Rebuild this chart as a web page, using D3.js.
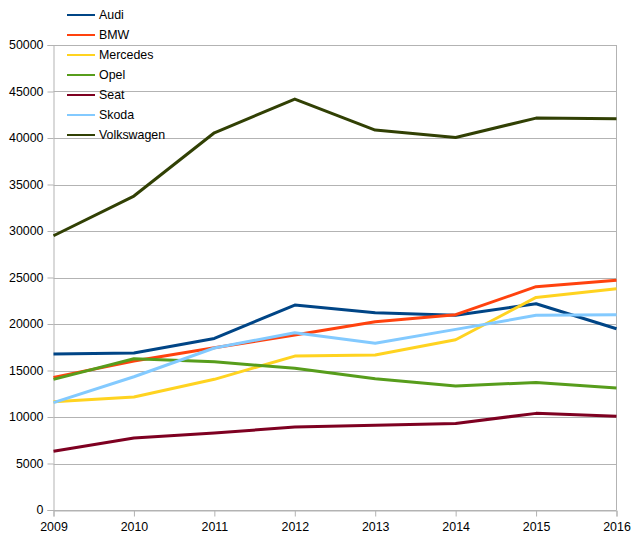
<!DOCTYPE html>
<html>
<head>
<meta charset="utf-8" />
<title>Car registrations</title>
<script src="https://cdn.jsdelivr.net/npm/d3@7"></script>
<style>
    body { margin: 0; background: #fff; }
    svg { font-family: "Liberation Sans", Arial, sans-serif; font-size: 12.4px; }
</style>
</head>
<body>
<svg id="chart" width="637" height="542"></svg>
<script>
    const years = [2009, 2010, 2011, 2012, 2013, 2014, 2015, 2016];
    const brands = ['Audi', 'BMW', 'Mercedes', 'Opel', 'Seat', 'Skoda', 'Volkswagen'];
    const colors = ['#004586', '#ff420e', '#ffd320', '#579d1c', '#7e0021', '#83caff', '#314004'];

    const audi = [16770, 16880, 18450, 22040, 21210, 20930, 22180, 19490];
    const bmw = [14260, 16020, 17450, 18810, 20240, 21000, 24010, 24700];
    const mercedes = [11640, 12150, 14050, 16550, 16660, 18310, 22860, 23800];
    const opel = [14050, 16270, 15950, 15230, 14120, 13330, 13720, 13120];
    const seat = [6310, 7740, 8280, 8920, 9100, 9310, 10390, 10070];
    const skoda = [11540, 14330, 17420, 19060, 17920, 19420, 20930, 21000];
    const volkswagen = [29490, 33760, 40560, 44180, 40850, 40060, 42140, 42070];

    const yTicks = [0, 5000, 10000, 15000, 20000, 25000, 30000, 35000, 40000, 45000, 50000];

    const series = [audi, bmw, mercedes, opel, seat, skoda, volkswagen]
        .map((values, i) => ({ name: brands[i], color: colors[i], values }));

    const plotLeft = 53.5, plotRight = 616.5, plotTop = 45, plotBottom = 510;

    const x = d3.scaleLinear().domain([2009, 2016]).range([plotLeft, plotRight]);
    const y = d3.scaleLinear().domain([0, 50000]).range([plotBottom, plotTop]);

    const svg = d3.select('#chart');

    // grid
    svg.append('g')
        .selectAll('line')
        .data(yTicks)
        .enter().append('line')
        .attr('x1', plotLeft).attr('x2', plotRight)
        .attr('y1', d => Math.round(y(d)) + 0.5)
        .attr('y2', d => Math.round(y(d)) + 0.5)
        .style('stroke', '#b3b3b3');

    svg.append('line')
        .attr('x1', plotRight).attr('x2', plotRight)
        .attr('y1', plotTop).attr('y2', plotBottom)
        .style('stroke', '#b3b3b3');

    // y axis
    const yAxis = svg.append('g')
        .attr('transform', `translate(${plotLeft},0)`)
        .call(d3.axisLeft(y).tickValues(yTicks).tickSize(6).tickPadding(4).tickFormat(d3.format('d')));
    yAxis.select('.domain').attr('stroke', '#b3b3b3');
    yAxis.selectAll('.tick line').attr('stroke', '#b3b3b3');
    yAxis.selectAll('.tick text').attr('fill', '#000').style('font-size', '12.4px').style('font-family', 'Liberation Sans, Arial, sans-serif');

    // x axis
    const xAxis = svg.append('g')
        .attr('transform', `translate(0,${plotBottom + 0.5})`)
        .call(d3.axisBottom(x).tickValues(years).tickSize(6).tickPadding(6).tickFormat(d3.format('d')));
    xAxis.select('.domain').attr('stroke', '#b3b3b3');
    xAxis.selectAll('.tick line').attr('stroke', '#b3b3b3');
    xAxis.selectAll('.tick text').attr('fill', '#000').style('font-size', '12.4px').style('font-family', 'Liberation Sans, Arial, sans-serif');

    // lines
    const line = d3.line()
        .x((d, i) => x(years[i]))
        .y(d => y(d));

    svg.append('g')
        .selectAll('path')
        .data(series)
        .enter().append('path')
        .attr('d', d => line(d.values))
        .style('fill', 'none')
        .style('stroke', d => d.color)
        .style('stroke-width', 3)
        .style('stroke-linejoin', 'round');

    // legend
    const legend = svg.append('g')
        .selectAll('g')
        .data(series)
        .enter().append('g')
        .attr('transform', (d, i) => `translate(67,${15 + i * 20})`);
    legend.append('line')
        .attr('x1', 0).attr('x2', 28)
        .style('stroke', d => d.color)
        .style('stroke-width', 2);
    legend.append('text')
        .attr('x', 32)
        .attr('dy', '0.35em')
        .style('fill', '#000')
        .text(d => d.name);
</script>
</body>
</html>
